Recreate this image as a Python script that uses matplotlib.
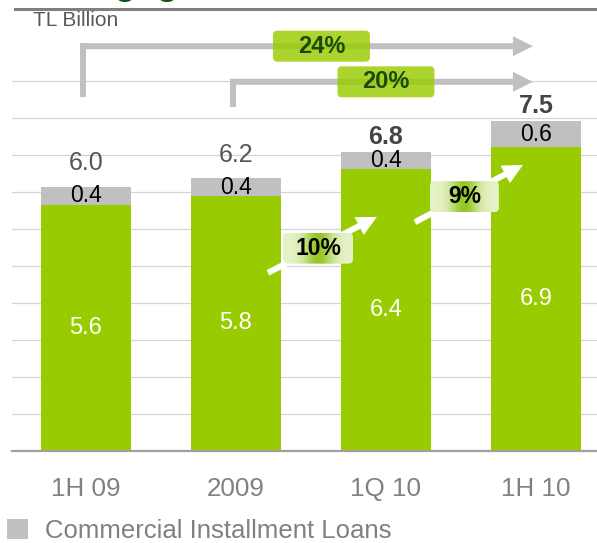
import numpy as np
import matplotlib.pyplot as plt
from matplotlib.patches import FancyBboxPatch, FancyArrowPatch, ArrowStyle
from matplotlib.lines import Line2D
from matplotlib.colors import LinearSegmentedColormap

plt.rcParams['font.family'] = ['Liberation Sans', 'DejaVu Sans']

# TL Billion
periods = ['1H 09', '2009', '1Q 10', '1H 10']
retail = [5.6, 5.8, 6.4, 6.9]
commercial = [0.4, 0.4, 0.4, 0.6]
bold_total = [False, False, True, True]
yoy_labels = ['24%', '20%']   # 1H 09 -> 1H 10, 2009 -> 1H 10
qoq_labels = ['10%', '9%']    # 2009 -> 1Q 10, 1Q 10 -> 1H 10

GREEN = '#99cc00'
GREY = '#c0c0c0'
PX_X = 1 / 150.0   # data units per pixel
PX_Y = 1 / 44.0
ASPECT = PX_Y / PX_X

fig = plt.figure(figsize=(5.97, 5.43), dpi=100)
ax = fig.add_axes([12 / 597, 92 / 543, 585 / 597, 451 / 543])
x = np.arange(len(periods))
totals = np.array(retail) + np.array(commercial)

ax.bar(x, retail, 0.6, color=GREEN, zorder=2)
bars_c = ax.bar(x, commercial, 0.6, bottom=retail, color=GREY, zorder=2,
                label='Commercial Installment Loans')

for k in range(1, 11):
    ax.axhline(k * 0.841, color='#d4d4d4', lw=0.9, zorder=1)
ax.axhline(0, color='#a0a0a0', lw=1.6, zorder=3, clip_on=False)

for i in x:
    ax.text(i, retail[i] / 2, f'{retail[i]:.1f}', ha='center', va='center',
            color='white', fontsize=17, zorder=4)
    ax.text(i, retail[i] + commercial[i] / 2, f'{commercial[i]:.1f}', ha='center',
            va='center', color='black', fontsize=16.5, zorder=4)
    ax.annotate(f'{totals[i]:.1f}', (i, totals[i]),
                xytext=(0, 11 if bold_total[i] else 17), textcoords='offset points',
                ha='center', va='center', fontsize=18,
                fontweight='bold' if bold_total[i] else 'normal',
                color='#444444' if bold_total[i] else '#555555', zorder=4)


def rbox(cx, cy, w, h, **kw):
    p = FancyBboxPatch((cx - w / 2, cy - h / 2), w, h,
                       boxstyle='round,pad=0,rounding_size=0.03',
                       mutation_aspect=ASPECT, **kw)
    ax.add_patch(p)
    return p


# growth brackets from earlier periods to 1H 10
arrow_style = ArrowStyle.Simple(head_length=0.72, head_width=0.72, tail_width=0.216)
brackets = [(0, 8.05, 9.2, 1.57), (1, 7.82, 8.39, 2.0)]
for (i0, y0, y1, bx), lab in zip(brackets, yoy_labels):
    xs = i0 - 0.02
    ax.plot([xs, xs], [y0, y1 + 3 * PX_Y], color=GREY, lw=4.3,
            solid_capstyle='butt', zorder=3)
    ax.add_patch(FancyArrowPatch((xs - 3 * PX_X, y1), (x[-1] - 0.02, y1),
                                 arrowstyle=arrow_style, mutation_scale=20,
                                 color=GREY, lw=0, shrinkA=0, shrinkB=0, zorder=3))
    rbox(bx, y1, 97 * PX_X, 31 * PX_Y, fc=GREEN, ec='none', alpha=0.82, zorder=5)
    ax.text(bx, y1, lab, ha='center', va='center', fontsize=17,
            fontweight='bold', color='#1b4a08', zorder=6)

# period-on-period growth arrows
steps = [((1.213, 4.05), (1.94, 5.32), (1.547, 4.61), 70),
         ((2.193, 5.2), (2.913, 6.5), (2.523, 5.78), 69)]
cmap = LinearSegmentedColormap.from_list('glow', ['#e6f2c8', '#94c723'])
u = np.linspace(0, 1, 200)
glow = np.exp(-((u - 0.5) / 0.2) ** 2)[None, :]
for (p0, p1, (cx, cy), w), lab in zip(steps, qoq_labels):
    ax.add_patch(FancyArrowPatch(p0, p1, arrowstyle=arrow_style, mutation_scale=20,
                                 color='white', lw=0, shrinkA=0, shrinkB=0, zorder=4))
    bw, bh = w * PX_X, 31 * PX_Y
    box = rbox(cx, cy, bw, bh, fc='none', ec='none', zorder=5)
    im = ax.imshow(glow, extent=[cx - bw / 2, cx + bw / 2, cy - bh / 2, cy + bh / 2],
                   aspect='auto', cmap=cmap, interpolation='bicubic', zorder=5)
    im.set_clip_path(box)
    ax.text(cx, cy, lab, ha='center', va='center', fontsize=16.5,
            fontweight='bold', color='black', zorder=6)

ax.set_xlim(-0.493, 3.407)
ax.set_ylim(0, 451 * PX_Y)
ax.set_yticks([])
ax.set_xticks(x, periods)
ax.tick_params(axis='x', length=0, pad=19, labelsize=18.7, labelcolor='#808080')
for s in ax.spines.values():
    s.set_visible(False)

# header rule and the bottom of the page title above it
fig.add_artist(Line2D([15 / 597, 1], [1 - 9 / 543] * 2, color='#808080', lw=2.2))
fig.text(37 / 597, 1 + 6.5 / 543, 'Mortgage', fontsize=26, fontweight='bold',
         color='#0e5214', va='baseline')
fig.text(33 / 597, 1 - 20 / 543, 'TL Billion', fontsize=15, color='#595959', va='center')

fig.legend(handles=[bars_c], loc='center left', bbox_to_anchor=(7 / 597, 12 / 543),
           frameon=False, fontsize=18.5, labelcolor='#808080', handlelength=0.82,
           handleheight=0.8, handletextpad=0.66, borderpad=0, borderaxespad=0)

fig.savefig('out.png', dpi=100)
